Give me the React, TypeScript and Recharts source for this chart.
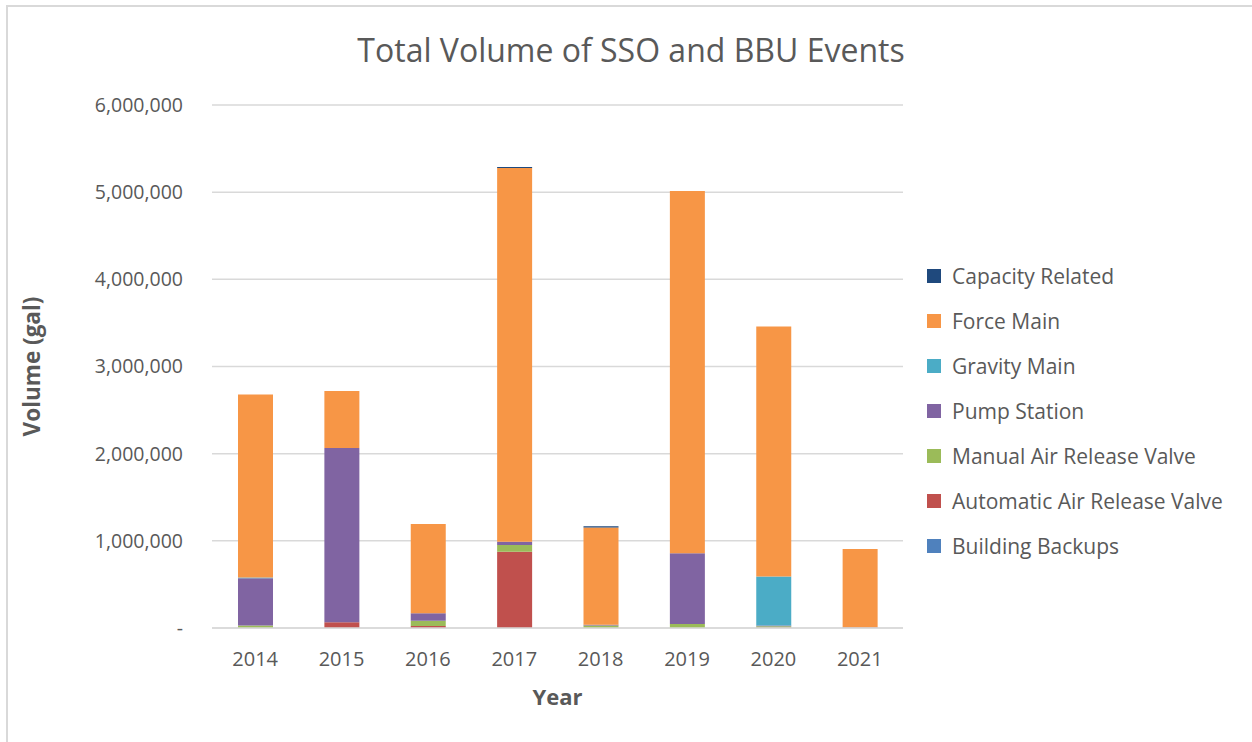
import { BarChart, Bar, XAxis, YAxis, CartesianGrid, Legend, Label } from 'recharts';

const years = ['2014', '2015', '2016', '2017', '2018', '2019', '2020', '2021'];

// stacked bottom-up in this order
const buildingBackups = [0, 0, 0, 0, 0, 0, 0, 0];
const automaticArv = [0, 65000, 22000, 875000, 0, 0, 5000, 0];
const manualArv = [30000, 0, 62000, 77000, 30000, 46000, 15000, 0];
const pumpStation = [540000, 2000000, 85000, 38000, 8000, 811000, 10000, 5000];
const gravityMain = [8000, 0, 0, 0, 0, 0, 562000, 0];
const forceMain = [2100000, 655000, 1024000, 4287000, 1115000, 4156000, 2868000, 901000];
const capacityRelated = [0, 0, 0, 12000, 15000, 0, 0, 0];

const yTicks = [0, 1000000, 2000000, 3000000, 4000000, 5000000, 6000000];

const series = [
  { key: 'buildingBackups', name: 'Building Backups', color: '#4F81BD', values: buildingBackups },
  { key: 'automaticArv', name: 'Automatic Air Release Valve', color: '#C0504D', values: automaticArv },
  { key: 'manualArv', name: 'Manual Air Release Valve', color: '#9BBB59', values: manualArv },
  { key: 'pumpStation', name: 'Pump Station', color: '#8064A2', values: pumpStation },
  { key: 'gravityMain', name: 'Gravity Main', color: '#4BACC6', values: gravityMain },
  { key: 'forceMain', name: 'Force Main', color: '#F79646', values: forceMain },
  { key: 'capacityRelated', name: 'Capacity Related', color: '#1F497D', values: capacityRelated },
];

const data = years.map((year, i) => {
  const row: any = { year };
  series.forEach((s) => (row[s.key] = s.values[i]));
  return row;
});

const FONT = '"Open Sans", sans-serif';
const GRAY = '#595959';

const LegendList = () => (
  <div style={{ fontFamily: FONT, fontSize: 21, color: GRAY }}>
    {[...series].reverse().map((s) => (
      <div key={s.key} style={{ display: 'flex', alignItems: 'center', height: 45 }}>
        <span style={{ width: 14, height: 14, background: s.color, marginRight: 11, display: 'inline-block' }} />
        <span>{s.name}</span>
      </div>
    ))}
  </div>
);

export default function App() {
  return (
    <div style={{ position: 'absolute', left: 0, top: 0, width: 1252, height: 742, background: '#fff', overflow: 'hidden' }}>
      <div
        style={{
          position: 'absolute', left: 6, top: 5, width: 1300, height: 800,
          borderLeft: '2px solid #d9d9d9', borderTop: '2px solid #d9d9d9',
        }}
      />
      <div
        style={{
          position: 'absolute', left: 0, top: 28, width: 1262, textAlign: 'center',
          fontFamily: FONT, fontSize: 32, color: GRAY,
        }}
      >
        Total Volume of SSO and BBU Events
      </div>
      <div style={{ position: 'absolute', left: 0, top: 0 }}>
        <BarChart
          width={1252}
          height={742}
          data={data}
          margin={{ top: 105, right: 29, left: 20, bottom: 32 }}
          barSize={35}
        >
          <CartesianGrid vertical={false} stroke="#d9d9d9" strokeWidth={1.5} />
          <XAxis
            dataKey="year"
            height={82}
            tickLine={false}
            axisLine={{ stroke: '#d9d9d9', strokeWidth: 1.5 }}
            tickMargin={18}
            tick={{ fill: GRAY, fontSize: 20, fontFamily: FONT }}
          >
            <Label
              content={({ viewBox }: any) => (
                <text
                  x={viewBox.x + viewBox.width / 2}
                  y={705}
                  textAnchor="middle"
                  fill={GRAY}
                  fontSize={22}
                  fontWeight="bold"
                  fontFamily={FONT}
                >
                  Year
                </text>
              )}
            />
          </XAxis>
          <YAxis
            width={192}
            domain={[0, 6000000]}
            ticks={yTicks}
            tickLine={false}
            axisLine={false}
            tickMargin={23}
            tick={{ fill: GRAY, fontSize: 19.5, fontFamily: FONT }}
            tickFormatter={(v: number) => (v === 0 ? '-' : v.toLocaleString('en-US'))}
          >
            <Label
              content={({ viewBox }: any) => (
                <text
                  x={40}
                  y={viewBox.y + viewBox.height / 2}
                  transform={`rotate(-90, 40, ${viewBox.y + viewBox.height / 2})`}
                  textAnchor="middle"
                  fill={GRAY}
                  fontSize={22.5}
                  fontWeight="bold"
                  fontFamily={FONT}
                >
                  Volume (gal)
                </text>
              )}
            />
          </YAxis>
          <Legend
            layout="vertical"
            align="right"
            verticalAlign="top"
            content={<LegendList />}
            wrapperStyle={{ left: 927, top: 253, width: 320 }}
          />
          {series.map((s) => (
            <Bar
              key={s.key}
              dataKey={s.key}
              name={s.name}
              stackId="a"
              fill={s.color}
              isAnimationActive={false}
            />
          ))}
        </BarChart>
      </div>
    </div>
  );
}
